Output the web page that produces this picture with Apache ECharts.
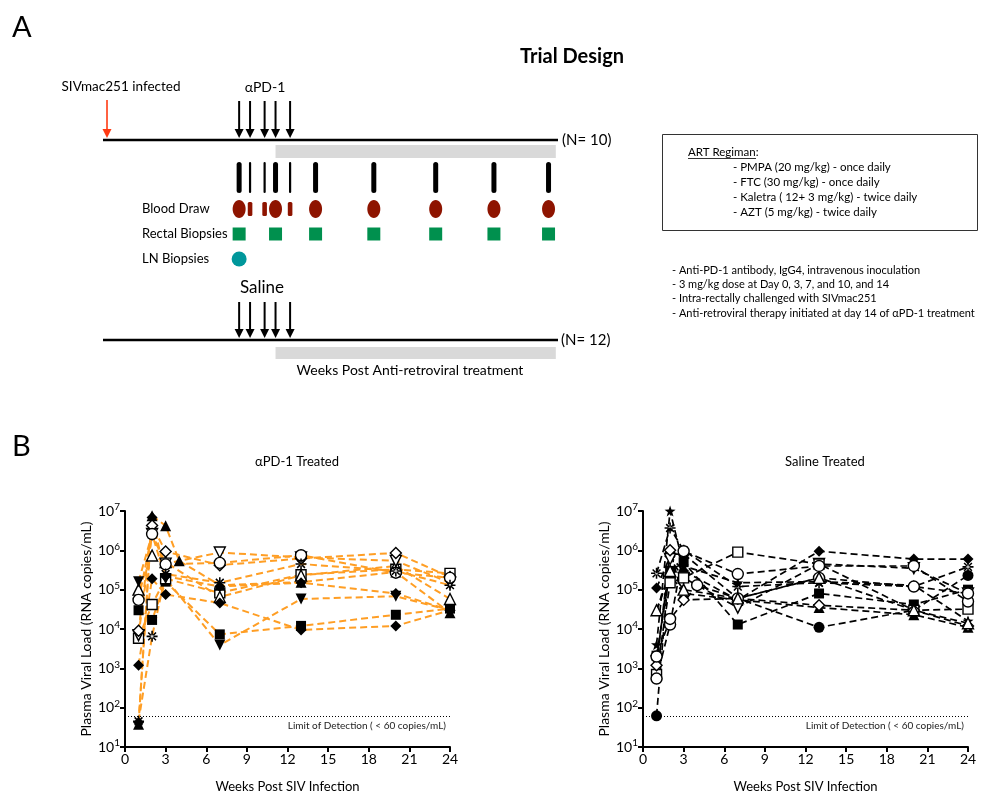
<!DOCTYPE html>
<html><head><meta charset="utf-8">
<script src="https://cdn.jsdelivr.net/npm/echarts@6/dist/echarts.min.js"></script>
<style>html,body{margin:0;padding:0;background:#fff}#c{width:985px;height:795px}</style>
</head><body><div id="c"></div>
<script>
// ---------------- DATA ----------------
// Panel A schedule (days relative to first αPD-1 dose, schematic)
const infectedDay = [-36.3];
const doseDays = [0, 3, 7, 10, 14];
const visitDays = [0, 3, 7, 10, 14, 21, 37, 54, 70, 85];
const visitMajor = [1, 0, 0, 1, 0, 1, 1, 1, 1, 1];
const rectalDays = [0, 10, 21, 37, 54, 70, 85];
const lnDays = [0];
const artSpan = [10, 87];
const timelineSpan = [-37.4, 87.6];

// Panel B
const weeks = [1, 2, 3, 4, 7, 13, 20, 24];
// αPD-1 treated (copies/mL)
const pd1FilledSquare   = [3.0e4, 1.7e4, 1.6e5, null, 7.3e3, 1.2e4, 2.3e4, 3.3e4];
const pd1OpenSquare     = [5.8e3, 4.2e4, 1.9e5, null, 8.3e4, 2.4e5, 3.3e5, 2.6e5];
const pd1FilledTriangle = [38, 7.6e6, 4.2e6, 5.4e5, 1.3e5, 1.55e5, 2.8e5, 2.6e4];
const pd1OpenTriangle   = [1.0e5, 7.4e5, 5.0e5, null, 6.5e4, 2.3e5, 4.0e5, 5.8e4];
const pd1FilledDown     = [1.6e5, 2.6e6, 1.9e5, null, 3.9e3, 5.8e4, 6.8e4, 3.0e4];
const pd1OpenDown       = [7.0e3, 2.6e6, 4.6e5, null, 8.8e5, 6.6e5, 5.4e5, 1.5e5];
const pd1FilledDiamondA = [1.2e3, 1.9e5, 7.5e4, null, 4.6e4, 9.5e3, 1.2e4, 3.0e4];
const pd1FilledDiamondB = [42, 6.8e6, 2.2e5, null, 1.2e5, 1.5e5, 8.0e4, 3.0e4];
const pd1OpenDiamond    = [9.0e3, 4.3e6, 9.3e5, null, 4.2e5, 6.2e5, 8.6e5, 2.1e5];
const pd1OpenCircle     = [5.5e4, 2.6e6, 4.4e5, null, 4.8e5, 7.5e5, 2.7e5, 2.0e5];
const pd1Asterisk       = [45, 6.5e3, 2.5e5, null, 1.5e5, 4.5e5, 3.0e5, 1.3e5];
// Saline treated (copies/mL)
const salFilledCircle   = [62, 8.0e5, 8.0e5, null, 6.0e4, 1.1e4, 3.0e4, 2.3e5];
const salAsterisk       = [2.6e5, 3.7e6, 1.0e6, null, 1.2e5, 1.5e5, 1.2e5, 3.8e5];
const salFilledDiamond  = [1.1e5, 7.0e5, 3.0e5, null, 5.5e4, 9.5e5, 6.0e5, 6.0e5];
const salFilledTriangle = [3.0e4, 2.5e5, 8.0e4, null, 5.5e4, 3.5e4, 2.3e4, 1.1e4];
const salStar           = [4.0e3, 1.0e7, 4.0e5, null, 1.5e5, 1.6e5, 1.3e5, 1.6e4];
const salFilledSquare   = [2.1e3, 3.0e5, 5.0e5, null, 1.3e4, 8.0e4, 4.2e4, 1.0e5];
const salOpenDown       = [1.5e3, 6.0e5, 2.0e5, null, 3.5e4, 4.5e5, 3.5e5, 8.0e4];
const salOpenSquare     = [700, 1.5e5, 2.0e5, null, 9.0e5, 4.5e5, 3.0e4, 3.2e4];
const salOpenCircle     = [550, 1.3e4, 9.5e5, null, 2.5e5, 4.0e5, 4.0e5, 5.0e4];
const salOpenDiamond    = [1.2e3, 1.0e6, 5.5e4, null, 6.0e4, 4.0e4, 3.0e4, 1.2e4];
const salOpenCircleB    = [2.0e3, 1.8e4, null, 1.3e5, 6.0e4, 2.0e5, 1.2e5, 8.0e4];
const salOpenTriangle   = [3.0e4, 3.0e5, 1.0e5, null, 6.0e4, 2.0e5, 3.0e4, 1.4e4];
const lodValue = 60;

// ---------------- STYLE ----------------
const FONT = 'Lato';
const ORANGE = '#FF9E24';
const ASTERISK = 'path://M-0.7,-5L0.7,-5L0.7,5L-0.7,5Z M-5,-0.7L5,-0.7L5,0.7L-5,0.7Z M3.04,4.03L4.03,3.04L-3.04,-4.03L-4.03,-3.04Z M-4.03,3.04L-3.04,4.03L4.03,-3.04L3.04,-4.03Z';
const STAR = 'path://M0,-10L2.35,-3.24L9.51,-3.09L3.8,1.24L5.88,8.09L0,4L-5.88,8.09L-3.8,1.24L-9.51,-3.09L-2.35,-3.24Z';
const M = {
  fsq: {symbol: 'rect', size: 10, fill: true},
  osq: {symbol: 'rect', size: 10, fill: false},
  ftri: {symbol: 'triangle', size: 11, fill: true},
  otri: {symbol: 'triangle', size: 11, fill: false},
  fdown: {symbol: 'triangle', size: 11, fill: true, rot: 180},
  odown: {symbol: 'triangle', size: 11, fill: false, rot: 180},
  fdia: {symbol: 'diamond', size: 11, fill: true},
  odia: {symbol: 'diamond', size: 11, fill: false},
  fcir: {symbol: 'circle', size: 11, fill: true},
  ocir: {symbol: 'circle', size: 11, fill: false},
  ast: {symbol: ASTERISK, size: 11, fill: true},
  star: {symbol: STAR, size: 11, fill: true}
};

const pd1Sets = [
  [pd1FilledSquare, M.fsq], [pd1OpenSquare, M.osq], [pd1FilledTriangle, M.ftri], [pd1OpenTriangle, M.otri],
  [pd1FilledDown, M.fdown], [pd1OpenDown, M.odown], [pd1FilledDiamondA, M.fdia], [pd1FilledDiamondB, M.fdia],
  [pd1OpenDiamond, M.odia], [pd1OpenCircle, M.ocir], [pd1Asterisk, M.ast]
];
const salSets = [
  [salFilledCircle, M.fcir], [salAsterisk, M.ast], [salFilledDiamond, M.fdia], [salFilledTriangle, M.ftri],
  [salStar, M.star], [salFilledSquare, M.fsq], [salOpenDown, M.odown], [salOpenSquare, M.osq],
  [salOpenCircle, M.ocir], [salOpenDiamond, M.odia], [salOpenCircleB, M.ocir], [salOpenTriangle, M.otri]
];

function pairs(vals) { return weeks.map((w, i) => [w, vals[i]]).filter(p => p[1] != null); }

function buildSeries(sets, axisIdx, lineColor, lineWidth, dash) {
  const out = [];
  sets.forEach(([vals, m], k) => {
    const s = {
      type: 'line', xAxisIndex: axisIdx, yAxisIndex: axisIdx, data: pairs(vals),
      showSymbol: false, symbol: 'none', z: 2, silent: true, animation: false,
      lineStyle: {color: lineColor, width: lineWidth, type: dash}
    };
    if (k === 0) {
      s.markLine = {
        silent: true, symbol: 'none', animation: false,
        lineStyle: {type: [1, 2], color: '#000', width: 1},
        label: {position: 'insideEndBottom', formatter: 'Limit of Detection ( < 60 copies/mL)',
                fontSize: 10, color: '#222', fontFamily: FONT, distance: 4},
        data: [{yAxis: lodValue}]
      };
    }
    out.push(s);
  });
  sets.forEach(([vals, m]) => {
    out.push({
      type: 'scatter', xAxisIndex: axisIdx, yAxisIndex: axisIdx, data: pairs(vals),
      symbol: m.symbol, symbolSize: m.size, symbolRotate: m.rot || 0, z: 5, silent: true, animation: false,
      itemStyle: m.fill ? {color: '#000', opacity: 1} : {color: '#fff', borderColor: '#000', borderWidth: 1.4, opacity: 1}
    });
  });
  return out;
}

// Panel A layout rows (pixel offsets inside panel-A grid)
const ROW = {doseTop: 21, doseBot: 58, line1: 60, barTop: 65, barBot: 78, visitTop: 82, visitBot: 113,
  blood: 129, rectal: 154, ln: 179, salDoseTop: 222, salDoseBot: 258, line2: 260, bar2Top: 267, bar2Bot: 279};

function arrowRender(color, lw) {
  return function (params, api) {
    const x = api.value(0);
    const top = api.coord([x, api.value(1)]);
    const bot = api.coord([x, api.value(2)]);
    const hl = 9, hw = 4.5;
    return {type: 'group', children: [
      {type: 'line', shape: {x1: top[0], y1: top[1], x2: bot[0], y2: bot[1] - hl + 1}, style: {stroke: color, lineWidth: lw}},
      {type: 'polygon', shape: {points: [[bot[0] - hw, bot[1] - hl], [bot[0] + hw, bot[1] - hl], [bot[0], bot[1]]]}, style: {fill: color}}
    ]};
  };
}

const A = 2; // axis index for panel A
const panelA = [
  {type: 'line', xAxisIndex: A, yAxisIndex: A, data: timelineSpan.map(d => [d, ROW.line1]), symbol: 'none', silent: true, animation: false, lineStyle: {color: '#000', width: 2.5}},
  {type: 'line', xAxisIndex: A, yAxisIndex: A, data: timelineSpan.map(d => [d, ROW.line2]), symbol: 'none', silent: true, animation: false, lineStyle: {color: '#000', width: 2.5}},
  {type: 'custom', xAxisIndex: A, yAxisIndex: A, silent: true, animation: false,
   data: [[artSpan[0], artSpan[1], ROW.barTop, ROW.barBot], [artSpan[0], artSpan[1], ROW.bar2Top, ROW.bar2Bot]],
   renderItem: function (p, api) {
     const a = api.coord([api.value(0), api.value(2)]);
     const b = api.coord([api.value(1), api.value(3)]);
     return {type: 'rect', shape: {x: a[0], y: a[1], width: b[0] - a[0], height: b[1] - a[1]}, style: {fill: '#D9D9D9'}};
   }},
  {type: 'custom', xAxisIndex: A, yAxisIndex: A, silent: true, animation: false,
   data: infectedDay.map(d => [d, ROW.doseTop - 1, ROW.doseBot]), renderItem: arrowRender('#FF3A12', 1.6)},
  {type: 'custom', xAxisIndex: A, yAxisIndex: A, silent: true, animation: false,
   data: doseDays.map(d => [d, ROW.doseTop, ROW.doseBot]), renderItem: arrowRender('#000', 2)},
  {type: 'custom', xAxisIndex: A, yAxisIndex: A, silent: true, animation: false,
   data: doseDays.map(d => [d, ROW.salDoseTop, ROW.salDoseBot]), renderItem: arrowRender('#000', 2)},
  {type: 'custom', xAxisIndex: A, yAxisIndex: A, silent: true, animation: false,
   data: visitDays.map((d, i) => [d, visitMajor[i]]),
   renderItem: function (p, api) {
     const major = api.value(1) === 1;
     const w = major ? 5 : 2.2;
     const a = api.coord([api.value(0), ROW.visitTop]);
     const b = api.coord([api.value(0), ROW.visitBot]);
     return {type: 'rect', shape: {x: a[0] - w / 2, y: a[1], width: w, height: b[1] - a[1], r: w / 2}, style: {fill: '#000'}};
   }},
  {type: 'custom', xAxisIndex: A, yAxisIndex: A, silent: true, animation: false,
   data: visitDays.map((d, i) => [d, visitMajor[i]]),
   renderItem: function (p, api) {
     const c = api.coord([api.value(0), ROW.blood]);
     if (api.value(1) === 1) {
       return {type: 'ellipse', shape: {cx: c[0], cy: c[1], rx: 6.5, ry: 9}, style: {fill: '#8E1400'}};
     }
     return {type: 'rect', shape: {x: c[0] - 2.3, y: c[1] - 7, width: 4.6, height: 14, r: 1.5}, style: {fill: '#8E1400'}};
   }},
  {type: 'scatter', xAxisIndex: A, yAxisIndex: A, silent: true, animation: false, symbol: 'rect', symbolSize: 13,
   data: rectalDays.map(d => [d, ROW.rectal]), itemStyle: {color: '#00904E', opacity: 1}},
  {type: 'scatter', xAxisIndex: A, yAxisIndex: A, silent: true, animation: false, symbol: 'circle', symbolSize: 15,
   data: lnDays.map(d => [d, ROW.ln]), itemStyle: {color: '#00979B', opacity: 1}}
];

function logLabel(v) { return '10{s|' + Math.round(Math.log10(v)) + '}'; }

function chartAxes(idx) {
  return {
    x: {type: 'value', gridIndex: idx, min: 0, max: 24, interval: 3,
        name: 'Weeks Post SIV Infection', nameLocation: 'middle', nameGap: 33,
        nameTextStyle: {fontSize: 13, color: '#000', fontFamily: FONT},
        axisLine: {lineStyle: {color: '#000', width: 2}}, axisTick: {length: 5, lineStyle: {width: 2}},
        axisLabel: {fontSize: 14, color: '#000', margin: 5, fontFamily: FONT}, splitLine: {show: false}},
    y: {type: 'log', logBase: 10, gridIndex: idx, min: 10, max: 1e7,
        name: 'Plasma Viral Load (RNA copies/mL)', nameLocation: 'middle', nameGap: 32,
        nameTextStyle: {fontSize: 14, color: '#000', fontFamily: FONT},
        axisLine: {show: true, lineStyle: {color: '#000', width: 2}}, axisTick: {show: true, length: 5, lineStyle: {width: 2}},
        axisLabel: {fontSize: 14, color: '#000', margin: 5, fontFamily: FONT, formatter: logLabel, lineHeight: 18,
                    rich: {s: {fontSize: 10, verticalAlign: 'top', lineHeight: 10, color: '#000', fontFamily: FONT}}},
        splitLine: {show: false}, minorTick: {show: false}}
  };
}
const ax0 = chartAxes(0), ax1 = chartAxes(1);

const txt = (x, y, text, extra) => ({type: 'text', x: x, y: y, silent: true,
  style: Object.assign({text: text, fontFamily: FONT, fontSize: 12, fill: '#000', textVerticalAlign: 'middle'}, extra || {})});

const graphics = [
  txt(12, 28, 'A', {fontSize: 29}),
  txt(12, 447, 'B', {fontSize: 29}),
  txt(572, 57, 'Trial Design', {fontSize: 20, fontWeight: 'bold', textAlign: 'center'}),
  txt(121, 87, 'SIVmac251 infected', {textAlign: 'center', fontSize: 13.5}),
  txt(265, 87, 'αPD-1', {textAlign: 'center', fontSize: 14}),
  txt(262, 288, 'Saline', {textAlign: 'center', fontSize: 17}),
  txt(562, 140, '(N= 10)', {fontSize: 15}),
  txt(561, 340, '(N= 12)', {fontSize: 15}),
  txt(142, 209, 'Blood Draw', {fontSize: 13}),
  txt(142, 234, 'Rectal Biopsies', {fontSize: 13}),
  txt(142, 259, 'LN Biopsies', {fontSize: 13}),
  txt(410, 370, 'Weeks Post Anti-retroviral treatment', {textAlign: 'center', fontSize: 14}),
  {type: 'rect', silent: true, shape: {x: 662.5, y: 134.5, width: 315, height: 96}, style: {fill: 'none', stroke: '#333', lineWidth: 1}},
  txt(688, 152, 'ART Regiman:', {fontSize: 11.5}),
  {type: 'line', silent: true, shape: {x1: 688, y1: 158.5, x2: 756, y2: 158.5}, style: {stroke: '#000', lineWidth: 0.8}},
  txt(733, 167, '- PMPA (20 mg/kg) - once daily', {fontSize: 11.5}),
  txt(733, 182, '- FTC (30 mg/kg) - once daily', {fontSize: 11.5}),
  txt(733, 197, '- Kaletra ( 12+ 3 mg/kg) - twice daily', {fontSize: 11.5}),
  txt(733, 212, '- AZT (5 mg/kg) - twice daily', {fontSize: 11.5}),
  txt(672, 270, '- Anti-PD-1 antibody, IgG4, intravenous inoculation', {fontSize: 11}),
  txt(672, 284, '- 3 mg/kg dose at Day 0, 3, 7, and 10, and 14', {fontSize: 11}),
  txt(672, 298, '- Intra-rectally challenged with SIVmac251', {fontSize: 11}),
  txt(672, 313, '- Anti-retroviral therapy initiated at day 14 of αPD-1 treatment', {fontSize: 11}),
  txt(297, 462, 'αPD-1 Treated', {textAlign: 'center', fontSize: 13}),
  txt(825, 462, 'Saline Treated', {textAlign: 'center', fontSize: 13})
];

const option = {
  animation: false,
  backgroundColor: '#fff',
  textStyle: {fontFamily: FONT},
  grid: [
    {left: 125, top: 511, width: 325, height: 236},
    {left: 643, top: 511, width: 325, height: 236},
    {left: 103, top: 80, width: 455, height: 320}
  ],
  xAxis: [ax0.x, ax1.x, {type: 'value', gridIndex: 2, min: timelineSpan[0], max: timelineSpan[1], show: false}],
  yAxis: [ax0.y, ax1.y, {type: 'value', gridIndex: 2, min: 0, max: 320, inverse: true, show: false}],
  graphic: graphics,
  series: [].concat(panelA, buildSeries(pd1Sets, 0, ORANGE, 2, [7, 4]), buildSeries(salSets, 1, '#000', 1.7, [7, 4]))
};

const chart = echarts.init(document.getElementById('c'), null, {renderer: 'canvas'});
chart.setOption(option);
</script>
</body></html>
